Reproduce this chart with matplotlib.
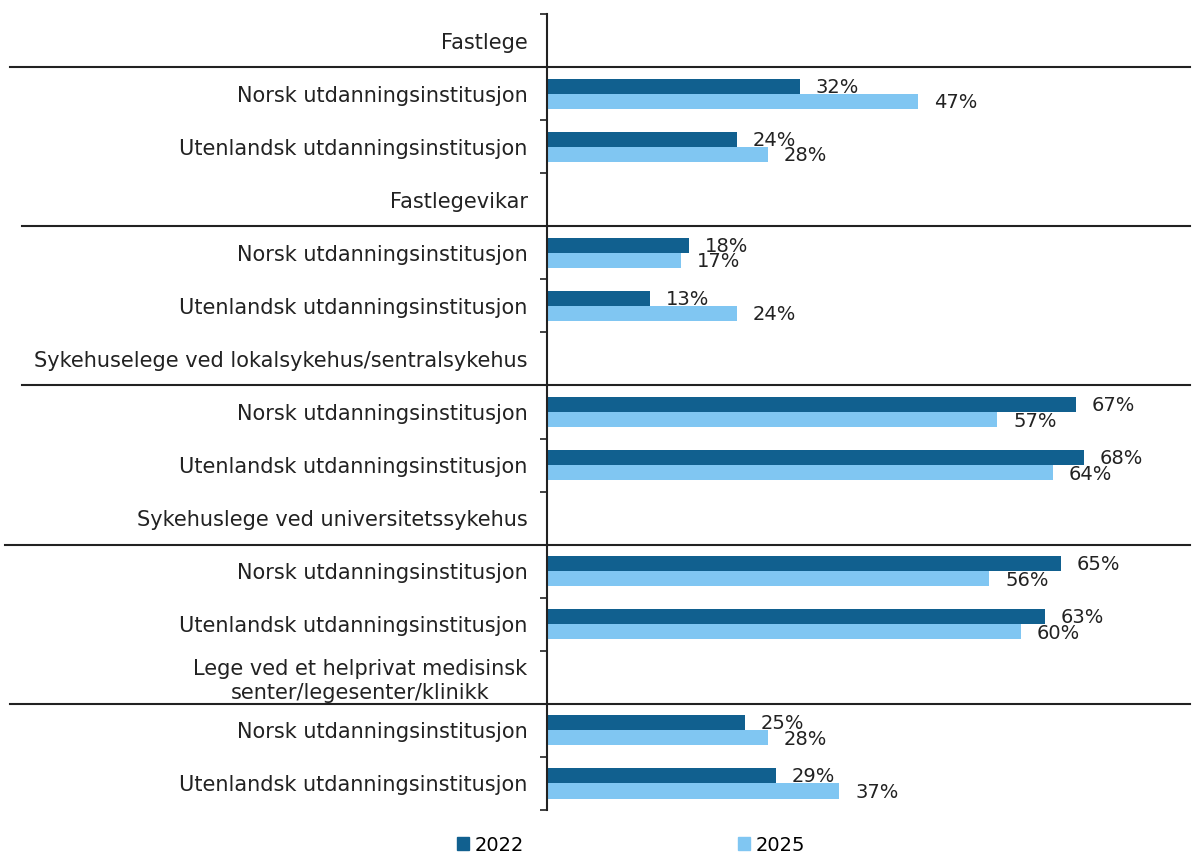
import matplotlib
matplotlib.use('Agg')
import matplotlib.pyplot as plt
from matplotlib.lines import Line2D
from matplotlib.patches import Patch
from matplotlib.transforms import blended_transform_factory
import numpy as np

plt.rcParams['font.family'] = ['DejaVu Sans']

categories = [
    'Fastlege',
    'Norsk utdanningsinstitusjon',
    'Utenlandsk utdanningsinstitusjon',
    'Fastlegevikar',
    'Norsk utdanningsinstitusjon',
    'Utenlandsk utdanningsinstitusjon',
    'Sykehuselege ved lokalsykehus/sentralsykehus',
    'Norsk utdanningsinstitusjon',
    'Utenlandsk utdanningsinstitusjon',
    'Sykehuslege ved universitetssykehus',
    'Norsk utdanningsinstitusjon',
    'Utenlandsk utdanningsinstitusjon',
    'Lege ved et helprivat medisinsk\nsenter/legesenter/klinikk',
    'Norsk utdanningsinstitusjon',
    'Utenlandsk utdanningsinstitusjon',
]
# None = group header row (no bars)
v2022 = [None, 32, 24, None, 18, 13, None, 67, 68, None, 65, 63, None, 25, 29]
v2025 = [None, 47, 28, None, 17, 24, None, 57, 64, None, 56, 60, None, 28, 37]
headers = [0, 3, 6, 9, 12]

c2022 = '#11608f'
c2025 = '#80c6f2'
txt = '#222222'
fs = 14

W, H = 1192, 855
fig = plt.figure(figsize=(W / 100, H / 100), dpi=100)
ax = fig.add_axes([547 / W, 1 - 810 / H, (1190 - 547) / W, (810 - 14) / H])

n = len(categories)
y = np.arange(n)
bh = 0.285
off = 0.142
px_per = 7.9
ax.set_xlim(0, (1190 - 547) / px_per)
ax.set_ylim(n - 0.5, -0.5)

for i in range(n):
    if v2022[i] is not None:
        ax.barh(y[i] - off, v2022[i], height=bh, color=c2022)
        ax.text(v2022[i] + 2.0, y[i] - off + 0.02, f'{v2022[i]}%', va='center', ha='left',
                fontsize=fs, color=txt)
    if v2025[i] is not None:
        ax.barh(y[i] + off, v2025[i], height=bh, color=c2025)
        ax.text(v2025[i] + 2.0, y[i] + off + 0.03, f'{v2025[i]}%', va='center', ha='left',
                fontsize=fs, color=txt)

ax.set_yticks(y)
ax.set_yticklabels(categories, fontsize=15, color=txt, ha='right', multialignment='center')
ax.tick_params(axis='y', which='major', length=0, pad=14)
ax.set_yticks(np.arange(-0.5, n, 1.0), minor=True)
ax.tick_params(axis='y', which='minor', length=5, width=1.2, direction='out', color=txt)
ax.set_xticks([])
for s in ['top', 'right', 'bottom']:
    ax.spines[s].set_visible(False)
ax.spines['left'].set_linewidth(1.5)
ax.spines['left'].set_color(txt)

# group separator lines, reaching out into the label area
tr = blended_transform_factory(fig.transFigure, ax.transData)
line_left = [10, 22, 22, 5, 10]
for h, xl in zip(headers, line_left):
    fig.add_artist(Line2D([xl / W, 1190 / W], [h + 0.5, h + 0.5], transform=tr,
                          color=txt, linewidth=1.5))

handles = [Patch(color=c2022, label='2022'), Patch(color=c2025, label='2025')]
fig.legend(handles=handles, loc='center', bbox_to_anchor=(631 / W, 1 - 845 / H), ncol=2,
           frameon=False, fontsize=fs, handlelength=0.6, handleheight=0.6,
           handletextpad=0.3, columnspacing=11.0)

fig.savefig('out.png', dpi=100)
